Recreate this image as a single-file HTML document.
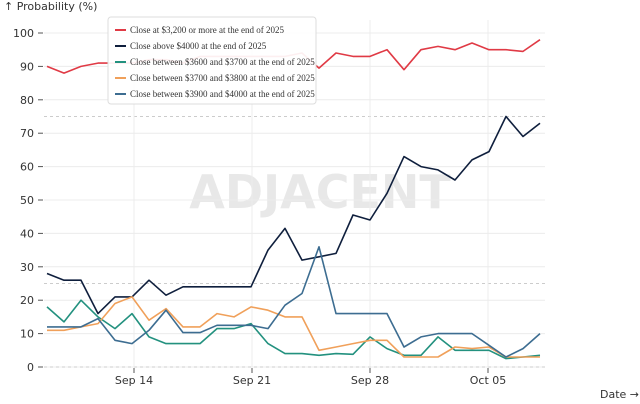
<!DOCTYPE html>
<html><head><meta charset="utf-8"><style>
body{margin:0;background:#fff;width:640px;height:400px;overflow:hidden;font-family:"DejaVu Sans","Liberation Sans",sans-serif}
</style></head><body>
<svg id="s" width="640" height="400" xmlns="http://www.w3.org/2000/svg" font-family="DejaVu Sans, Liberation Sans, sans-serif">
<text x="4" y="10" font-size="11" fill="#333">↑ Probability (%)</text>
<text x="600" y="398" font-size="11" fill="#333">Date →</text>
<text x="320" y="208" font-size="46" font-weight="bold" fill="#e8e8e8" text-anchor="middle">ADJACENT</text>
<g id="grid"></g><g id="lines"></g>
<g transform="translate(108,17)">
<rect x="0" y="0" width="208" height="87" rx="3" fill="#fff" fill-opacity="0.92" stroke="#ddd"/>
<g font-family="Liberation Serif, serif" font-size="9" fill="#333">
<line x1="7" x2="18" y1="13" y2="13" stroke="#e03a45" stroke-width="2"/><text x="22" y="16">Close at $3,200 or more at the end of 2025</text>
<line x1="7" x2="18" y1="29" y2="29" stroke="#0f1f3d" stroke-width="2"/><text x="22" y="32">Close above $4000 at the end of 2025</text>
<line x1="7" x2="18" y1="45" y2="45" stroke="#23917f" stroke-width="2"/><text x="22" y="48">Close between $3600 and $3700 at the end of 2025</text>
<line x1="7" x2="18" y1="61" y2="61" stroke="#f0a05a" stroke-width="2"/><text x="22" y="64">Close between $3700 and $3800 at the end of 2025</text>
<line x1="7" x2="18" y1="77" y2="77" stroke="#3d6d91" stroke-width="2"/><text x="22" y="80">Close between $3900 and $4000 at the end of 2025</text>
</g></g>
</svg>
<script>
var ns="http://www.w3.org/2000/svg",g=document.getElementById('grid'),L=document.getElementById('lines');
function el(p,t,a){var e=document.createElementNS(ns,t);for(var k in a)e.setAttribute(k,a[k]);p.appendChild(e);return e;}
function Y(v){return 367-v*3.34;}
for(var v=0;v<=100;v+=10){el(g,'line',{x1:44,x2:545,y1:Y(v),y2:Y(v),stroke:'#ececec'});el(g,'line',{x1:38,x2:43,y1:Y(v),y2:Y(v),stroke:'#555'});
var t=el(g,'text',{x:34,y:Y(v)+4,'font-size':11,fill:'#333','text-anchor':'end'});t.textContent=v;}
[0,25,75].forEach(function(v){el(g,'line',{x1:44,x2:545,y1:Y(v),y2:Y(v),stroke:'#ccc','stroke-dasharray':'3,3'});});
[[134,'Sep 14'],[252,'Sep 21'],[370,'Sep 28'],[488,'Oct 05']].forEach(function(d){el(g,'line',{x1:d[0],x2:d[0],y1:20,y2:367,stroke:'#ececec'});el(g,'line',{x1:d[0],x2:d[0],y1:368,y2:373,stroke:'#555'});var t=el(g,'text',{x:d[0],y:384,'font-size':11,fill:'#333','text-anchor':'middle'});t.textContent=d[1];});
var S=[
['#e03a45',[90,88,90,91,91,91,92,92,91,93,93,93,93,93,93,94,89.5,94,93,93,95,89,95,96,95,97,95,95,94.5,98]],
['#0f1f3d',[28,26,26,16,21,21,26,21.5,24,24,24,24,24,35,41.5,32,33,34,45.5,44,52,63,60,59,56,62,64.5,75,69,73]],
['#23917f',[18,13.5,20,15,11.5,16,9,7,7,7,11.5,11.5,13,7,4,4,3.5,4,3.8,9,5.5,3.5,3.5,9,5,5,5,2.5,3,3.5]],
['#f0a05a',[11,11,12,13,19,21,14,17.5,12,12,16,15,18,17,15,15,5,6,7,8,8,3,3,3,6,5.5,6,3,3,3]],
['#3d6d91',[12,12,12,14.5,8,7,11,17,10.3,10.3,12.5,12.5,12.5,11.5,18.5,22,36,16,16,16,16,6,9,10,10,10,6.5,3,5.5,10]]];
S.forEach(function(s){var d=s[1].map(function(v,i){return (i?'L':'M')+(47+i*17)+','+Y(v).toFixed(1);}).join('');
el(L,'path',{d:d,fill:'none',stroke:s[0],'stroke-width':1.6,'stroke-linejoin':'round'});});
</script>
</body></html>
